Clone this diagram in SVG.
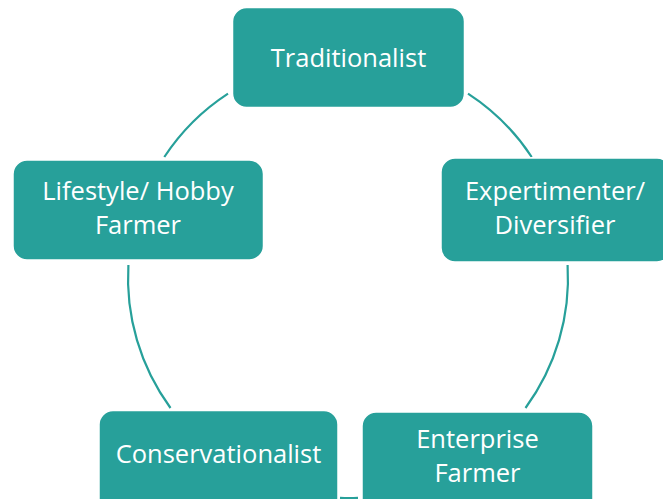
<svg xmlns="http://www.w3.org/2000/svg" width="663" height="499" viewBox="0 0 663 499">
  <style>
    .box { fill: #27A09A; stroke: #ffffff; stroke-width: 1.5; }
    .lbl { fill: #ffffff; font-family: "Open Sans", "Liberation Sans", sans-serif; font-size: 25.5px; text-anchor: middle; }
    .arc { fill: none; stroke: #27A09A; stroke-width: 2.2; }
  </style>
  <rect width="663" height="499" fill="#ffffff"/>

  <!-- cycle arcs on a circle centred at (348,278), r=220 -->
  <g id="connectors">
    <path class="arc" d="M164.3,157 A220,220 0 0 1 228,93.6"/>
    <path class="arc" d="M468,93.6 A220,220 0 0 1 531.7,157"/>
    <path class="arc" d="M567.6,265 A220,220 0 0 1 525.5,408"/>
    <path class="arc" d="M358,497.8 A220,220 0 0 1 340,497.8"/>
    <path class="arc" d="M170.5,408 A220,220 0 0 1 128.4,265"/>
  </g>

  <g id="traditionalist">
    <rect class="box" x="232.5" y="7.5" width="232" height="100" rx="14"/>
    <text class="lbl" x="348.5" y="67">Traditionalist</text>
  </g>

  <g id="expertimenter">
    <rect class="box" x="441" y="158" width="230" height="104" rx="14"/>
    <text class="lbl" x="555" y="200">Expertimenter/</text>
    <text class="lbl" x="555" y="234">Diversifier</text>
  </g>

  <g id="enterprise">
    <rect class="box" x="362" y="412" width="231" height="104" rx="14"/>
    <text class="lbl" x="477.5" y="448">Enterprise</text>
    <text class="lbl" x="477.5" y="482">Farmer</text>
  </g>

  <g id="conservationalist">
    <rect class="box" x="99" y="410.5" width="239" height="104" rx="14"/>
    <text class="lbl" x="218.5" y="463">Conservationalist</text>
  </g>

  <g id="lifestyle">
    <rect class="box" x="13" y="160" width="250.5" height="100" rx="14"/>
    <text class="lbl" x="138" y="200">Lifestyle/ Hobby</text>
    <text class="lbl" x="138" y="234">Farmer</text>
  </g>
</svg>
